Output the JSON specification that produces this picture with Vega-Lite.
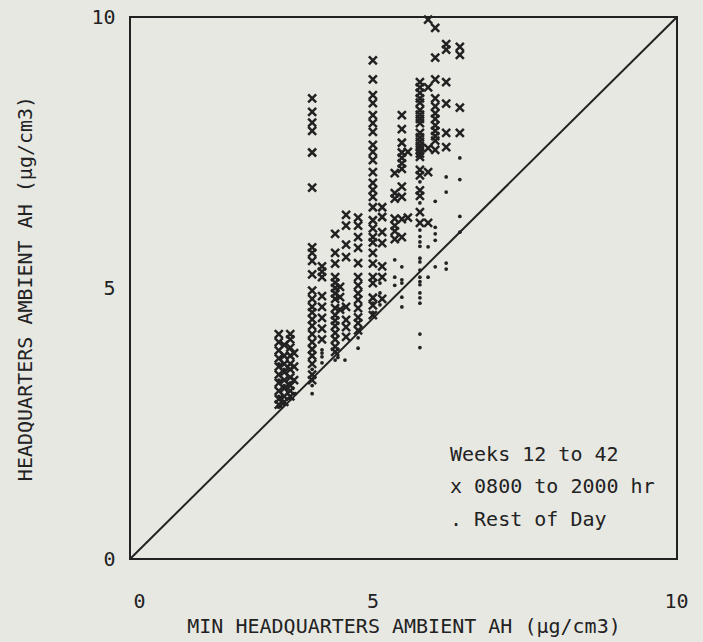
{
  "$schema": "https://vega.github.io/schema/vega-lite/v6.json",
  "width": 547,
  "height": 542,
  "autosize": {"type": "none"},
  "padding": {"left": 130, "top": 17, "right": 26, "bottom": 83},
  "background": "#e8e8e3",
  "config": {
    "view": {"stroke": "#222222", "strokeWidth": 2},
    "font": "DejaVu Sans Mono",
    "axis": {"labelFont": "DejaVu Sans Mono", "titleFont": "DejaVu Sans Mono", "labelColor": "#222222", "titleColor": "#222222", "titleFontWeight": "normal"}
  },
  "datasets": {
    "diag": [{"x": 0, "y": 0, "x2": 10, "y2": 10}],
    "legend": [
      {"x": 5.85, "y": 1.92, "label": "Weeks 12 to 42"},
      {"x": 5.85, "y": 1.33, "label": "x 0800 to 2000 hr"},
      {"x": 5.85, "y": 0.72, "label": ". Rest of Day"}
    ],
    "pts": [
      {"x": 2.72, "y": 4.15, "t": "d"}, {"x": 2.72, "y": 4.0, "t": "d"}, {"x": 2.72, "y": 3.85, "t": "d"}, {"x": 2.72, "y": 3.7, "t": "d"}, {"x": 2.72, "y": 3.55, "t": "d"}, {"x": 2.72, "y": 3.4, "t": "d"}, {"x": 2.72, "y": 3.25, "t": "d"}, {"x": 2.72, "y": 3.1, "t": "d"}, {"x": 2.72, "y": 2.95, "t": "d"}, {"x": 2.72, "y": 2.85, "t": "d"},
      {"x": 2.82, "y": 3.95, "t": "d"}, {"x": 2.82, "y": 3.75, "t": "d"}, {"x": 2.82, "y": 3.6, "t": "d"}, {"x": 2.82, "y": 3.45, "t": "d"}, {"x": 2.82, "y": 3.3, "t": "d"}, {"x": 2.82, "y": 3.15, "t": "d"}, {"x": 2.82, "y": 3.0, "t": "d"}, {"x": 2.82, "y": 2.9, "t": "d"},
      {"x": 2.93, "y": 4.15, "t": "d"}, {"x": 2.93, "y": 4.05, "t": "d"}, {"x": 2.93, "y": 3.9, "t": "d"}, {"x": 2.93, "y": 3.75, "t": "d"}, {"x": 2.93, "y": 3.6, "t": "d"}, {"x": 2.93, "y": 3.5, "t": "d"}, {"x": 2.93, "y": 3.35, "t": "d"}, {"x": 2.93, "y": 3.2, "t": "d"}, {"x": 2.93, "y": 3.1, "t": "d"}, {"x": 2.93, "y": 3.0, "t": "d"},
      {"x": 3.0, "y": 3.8, "t": "d"}, {"x": 3.0, "y": 3.55, "t": "d"}, {"x": 3.0, "y": 3.3, "t": "d"},
      {"x": 2.72, "y": 3.0, "t": "n"}, {"x": 2.72, "y": 2.8, "t": "n"}, {"x": 2.72, "y": 3.3, "t": "n"}, {"x": 2.72, "y": 3.6, "t": "n"},
      {"x": 2.82, "y": 3.5, "t": "n"}, {"x": 2.82, "y": 2.85, "t": "n"}, {"x": 2.82, "y": 3.2, "t": "n"},
      {"x": 2.93, "y": 3.25, "t": "n"}, {"x": 2.93, "y": 2.95, "t": "n"}, {"x": 3.02, "y": 3.05, "t": "n"},
      {"x": 3.33, "y": 8.5, "t": "d"}, {"x": 3.33, "y": 8.25, "t": "d"}, {"x": 3.33, "y": 8.05, "t": "d"}, {"x": 3.33, "y": 7.9, "t": "d"}, {"x": 3.33, "y": 7.5, "t": "d"}, {"x": 3.33, "y": 6.85, "t": "d"}, {"x": 3.33, "y": 5.75, "t": "d"}, {"x": 3.33, "y": 5.65, "t": "d"}, {"x": 3.33, "y": 5.5, "t": "d"}, {"x": 3.33, "y": 5.25, "t": "d"}, {"x": 3.33, "y": 4.95, "t": "d"}, {"x": 3.33, "y": 4.8, "t": "d"}, {"x": 3.33, "y": 4.65, "t": "d"}, {"x": 3.33, "y": 4.55, "t": "d"}, {"x": 3.33, "y": 4.42, "t": "d"}, {"x": 3.33, "y": 4.3, "t": "d"}, {"x": 3.33, "y": 4.15, "t": "d"}, {"x": 3.33, "y": 4.0, "t": "d"}, {"x": 3.33, "y": 3.87, "t": "d"}, {"x": 3.33, "y": 3.75, "t": "d"}, {"x": 3.33, "y": 3.6, "t": "d"}, {"x": 3.33, "y": 3.4, "t": "d"}, {"x": 3.33, "y": 3.3, "t": "d"},
      {"x": 3.33, "y": 3.05, "t": "n"}, {"x": 3.33, "y": 3.2, "t": "n"}, {"x": 3.33, "y": 3.5, "t": "n"},
      {"x": 3.51, "y": 5.4, "t": "d"}, {"x": 3.51, "y": 5.3, "t": "d"}, {"x": 3.51, "y": 5.2, "t": "d"}, {"x": 3.51, "y": 4.85, "t": "d"}, {"x": 3.51, "y": 4.65, "t": "d"}, {"x": 3.51, "y": 4.45, "t": "d"}, {"x": 3.51, "y": 4.25, "t": "d"}, {"x": 3.51, "y": 4.05, "t": "d"},
      {"x": 3.51, "y": 3.86, "t": "n"}, {"x": 3.51, "y": 3.8, "t": "n"}, {"x": 3.51, "y": 3.73, "t": "n"}, {"x": 3.51, "y": 3.62, "t": "n"},
      {"x": 3.75, "y": 6.0, "t": "d"}, {"x": 3.75, "y": 5.65, "t": "d"}, {"x": 3.75, "y": 5.45, "t": "d"}, {"x": 3.75, "y": 5.2, "t": "d"}, {"x": 3.75, "y": 5.1, "t": "d"}, {"x": 3.75, "y": 5.0, "t": "d"}, {"x": 3.75, "y": 4.9, "t": "d"}, {"x": 3.75, "y": 4.8, "t": "d"}, {"x": 3.75, "y": 4.63, "t": "d"}, {"x": 3.75, "y": 4.5, "t": "d"}, {"x": 3.75, "y": 4.4, "t": "d"}, {"x": 3.75, "y": 4.3, "t": "d"}, {"x": 3.75, "y": 4.17, "t": "d"}, {"x": 3.75, "y": 4.05, "t": "d"}, {"x": 3.75, "y": 3.92, "t": "d"}, {"x": 3.75, "y": 3.82, "t": "d"},
      {"x": 3.75, "y": 3.67, "t": "n"}, {"x": 3.8, "y": 3.72, "t": "n"}, {"x": 3.93, "y": 3.67, "t": "n"},
      {"x": 3.84, "y": 5.02, "t": "d"}, {"x": 3.84, "y": 4.83, "t": "d"}, {"x": 3.84, "y": 4.6, "t": "d"},
      {"x": 3.95, "y": 6.35, "t": "d"}, {"x": 3.95, "y": 6.15, "t": "d"}, {"x": 3.95, "y": 5.8, "t": "d"}, {"x": 3.95, "y": 5.57, "t": "d"}, {"x": 3.95, "y": 4.65, "t": "d"}, {"x": 3.95, "y": 4.41, "t": "d"}, {"x": 3.95, "y": 4.28, "t": "d"}, {"x": 3.95, "y": 4.1, "t": "d"},
      {"x": 4.17, "y": 6.3, "t": "d"}, {"x": 4.17, "y": 6.15, "t": "d"}, {"x": 4.17, "y": 5.94, "t": "d"}, {"x": 4.17, "y": 5.74, "t": "d"}, {"x": 4.17, "y": 5.46, "t": "d"}, {"x": 4.17, "y": 5.2, "t": "d"}, {"x": 4.17, "y": 5.05, "t": "d"}, {"x": 4.17, "y": 4.9, "t": "d"}, {"x": 4.17, "y": 4.78, "t": "d"}, {"x": 4.17, "y": 4.63, "t": "d"}, {"x": 4.17, "y": 4.46, "t": "d"}, {"x": 4.17, "y": 4.35, "t": "d"}, {"x": 4.17, "y": 4.22, "t": "d"},
      {"x": 4.17, "y": 4.08, "t": "n"}, {"x": 4.17, "y": 3.89, "t": "n"},
      {"x": 4.44, "y": 9.2, "t": "d"}, {"x": 4.44, "y": 8.85, "t": "d"}, {"x": 4.44, "y": 8.56, "t": "d"}, {"x": 4.44, "y": 8.41, "t": "d"}, {"x": 4.44, "y": 8.19, "t": "d"}, {"x": 4.44, "y": 8.04, "t": "d"}, {"x": 4.44, "y": 7.88, "t": "d"}, {"x": 4.44, "y": 7.64, "t": "d"}, {"x": 4.44, "y": 7.51, "t": "d"}, {"x": 4.44, "y": 7.36, "t": "d"}, {"x": 4.44, "y": 7.14, "t": "d"}, {"x": 4.44, "y": 6.94, "t": "d"}, {"x": 4.44, "y": 6.81, "t": "d"}, {"x": 4.44, "y": 6.68, "t": "d"}, {"x": 4.44, "y": 6.49, "t": "d"}, {"x": 4.44, "y": 6.25, "t": "d"}, {"x": 4.44, "y": 6.1, "t": "d"}, {"x": 4.44, "y": 5.94, "t": "d"}, {"x": 4.44, "y": 5.84, "t": "d"}, {"x": 4.44, "y": 5.65, "t": "d"}, {"x": 4.44, "y": 5.45, "t": "d"}, {"x": 4.44, "y": 5.2, "t": "d"}, {"x": 4.44, "y": 5.09, "t": "d"}, {"x": 4.44, "y": 4.82, "t": "d"}, {"x": 4.44, "y": 4.68, "t": "d"}, {"x": 4.44, "y": 4.5, "t": "d"},
      {"x": 4.44, "y": 4.72, "t": "n"}, {"x": 4.44, "y": 4.55, "t": "n"},
      {"x": 4.61, "y": 6.49, "t": "d"}, {"x": 4.61, "y": 6.31, "t": "d"}, {"x": 4.61, "y": 6.03, "t": "d"}, {"x": 4.61, "y": 5.83, "t": "d"}, {"x": 4.61, "y": 5.4, "t": "d"}, {"x": 4.61, "y": 5.2, "t": "d"}, {"x": 4.61, "y": 4.8, "t": "d"},
      {"x": 4.57, "y": 5.09, "t": "n"}, {"x": 4.57, "y": 4.91, "t": "n"}, {"x": 4.57, "y": 4.69, "t": "n"},
      {"x": 4.84, "y": 7.12, "t": "d"}, {"x": 4.84, "y": 6.75, "t": "d"}, {"x": 4.84, "y": 6.65, "t": "d"}, {"x": 4.84, "y": 6.28, "t": "d"}, {"x": 4.84, "y": 6.15, "t": "d"}, {"x": 4.84, "y": 6.05, "t": "d"}, {"x": 4.84, "y": 5.9, "t": "d"},
      {"x": 4.84, "y": 5.52, "t": "n"}, {"x": 4.84, "y": 5.2, "t": "n"}, {"x": 4.84, "y": 5.05, "t": "n"},
      {"x": 4.97, "y": 8.19, "t": "d"}, {"x": 4.97, "y": 7.93, "t": "d"}, {"x": 4.97, "y": 7.68, "t": "d"}, {"x": 4.97, "y": 7.5, "t": "d"}, {"x": 4.97, "y": 7.4, "t": "d"}, {"x": 4.97, "y": 7.3, "t": "d"}, {"x": 4.97, "y": 7.2, "t": "d"}, {"x": 4.97, "y": 6.87, "t": "d"}, {"x": 4.97, "y": 6.68, "t": "d"}, {"x": 4.97, "y": 6.27, "t": "d"}, {"x": 4.97, "y": 5.94, "t": "d"}, {"x": 5.08, "y": 7.51, "t": "d"}, {"x": 5.08, "y": 6.3, "t": "d"},
      {"x": 4.97, "y": 5.39, "t": "n"}, {"x": 4.97, "y": 5.15, "t": "n"}, {"x": 4.97, "y": 5.09, "t": "n"}, {"x": 4.97, "y": 4.83, "t": "n"}, {"x": 4.97, "y": 4.65, "t": "n"},
      {"x": 5.3, "y": 8.8, "t": "d"}, {"x": 5.3, "y": 8.7, "t": "d"}, {"x": 5.3, "y": 8.6, "t": "d"}, {"x": 5.3, "y": 8.5, "t": "d"}, {"x": 5.3, "y": 8.42, "t": "d"}, {"x": 5.3, "y": 8.28, "t": "d"}, {"x": 5.3, "y": 8.2, "t": "d"}, {"x": 5.3, "y": 8.12, "t": "d"}, {"x": 5.3, "y": 8.04, "t": "d"}, {"x": 5.3, "y": 7.86, "t": "d"}, {"x": 5.3, "y": 7.78, "t": "d"}, {"x": 5.3, "y": 7.7, "t": "d"}, {"x": 5.3, "y": 7.62, "t": "d"}, {"x": 5.3, "y": 7.55, "t": "d"}, {"x": 5.3, "y": 7.48, "t": "d"}, {"x": 5.3, "y": 7.42, "t": "d"}, {"x": 5.3, "y": 7.18, "t": "d"}, {"x": 5.3, "y": 7.08, "t": "d"}, {"x": 5.3, "y": 6.8, "t": "d"}, {"x": 5.3, "y": 6.7, "t": "d"}, {"x": 5.3, "y": 6.4, "t": "d"}, {"x": 5.3, "y": 6.2, "t": "d"},
      {"x": 5.3, "y": 6.96, "t": "n"}, {"x": 5.3, "y": 6.57, "t": "n"}, {"x": 5.3, "y": 6.07, "t": "n"}, {"x": 5.3, "y": 5.95, "t": "n"}, {"x": 5.3, "y": 5.85, "t": "n"}, {"x": 5.3, "y": 5.77, "t": "n"}, {"x": 5.3, "y": 5.55, "t": "n"}, {"x": 5.3, "y": 5.48, "t": "n"}, {"x": 5.3, "y": 5.33, "t": "n"}, {"x": 5.3, "y": 5.2, "t": "n"}, {"x": 5.3, "y": 5.12, "t": "n"}, {"x": 5.3, "y": 5.06, "t": "n"}, {"x": 5.3, "y": 4.91, "t": "n"}, {"x": 5.3, "y": 4.82, "t": "n"}, {"x": 5.3, "y": 4.72, "t": "n"}, {"x": 5.3, "y": 4.15, "t": "n"}, {"x": 5.3, "y": 3.9, "t": "n"},
      {"x": 5.45, "y": 9.95, "t": "d"}, {"x": 5.45, "y": 8.7, "t": "d"}, {"x": 5.45, "y": 7.58, "t": "d"}, {"x": 5.45, "y": 7.14, "t": "d"}, {"x": 5.45, "y": 6.2, "t": "d"},
      {"x": 5.45, "y": 5.76, "t": "n"}, {"x": 5.45, "y": 5.2, "t": "n"},
      {"x": 5.58, "y": 9.8, "t": "d"}, {"x": 5.58, "y": 9.25, "t": "d"}, {"x": 5.58, "y": 8.85, "t": "d"}, {"x": 5.58, "y": 8.5, "t": "d"}, {"x": 5.58, "y": 8.35, "t": "d"}, {"x": 5.58, "y": 8.22, "t": "d"}, {"x": 5.58, "y": 8.12, "t": "d"}, {"x": 5.58, "y": 8.0, "t": "d"}, {"x": 5.58, "y": 7.9, "t": "d"}, {"x": 5.58, "y": 7.8, "t": "d"}, {"x": 5.58, "y": 7.72, "t": "d"}, {"x": 5.58, "y": 7.55, "t": "d"},
      {"x": 5.58, "y": 6.6, "t": "n"}, {"x": 5.58, "y": 6.12, "t": "n"}, {"x": 5.58, "y": 6.0, "t": "n"}, {"x": 5.58, "y": 5.88, "t": "n"}, {"x": 5.58, "y": 5.39, "t": "n"},
      {"x": 5.78, "y": 9.5, "t": "d"}, {"x": 5.78, "y": 9.4, "t": "d"}, {"x": 5.78, "y": 8.8, "t": "d"}, {"x": 5.78, "y": 8.4, "t": "d"}, {"x": 5.78, "y": 7.86, "t": "d"}, {"x": 5.78, "y": 7.6, "t": "d"},
      {"x": 5.78, "y": 7.05, "t": "n"}, {"x": 5.78, "y": 6.77, "t": "n"}, {"x": 5.78, "y": 5.46, "t": "n"}, {"x": 5.78, "y": 5.35, "t": "n"},
      {"x": 6.03, "y": 9.45, "t": "d"}, {"x": 6.03, "y": 9.3, "t": "d"}, {"x": 6.03, "y": 8.33, "t": "d"}, {"x": 6.03, "y": 7.86, "t": "d"},
      {"x": 6.03, "y": 7.4, "t": "n"}, {"x": 6.03, "y": 7.0, "t": "n"}, {"x": 6.03, "y": 6.32, "t": "n"}, {"x": 6.03, "y": 6.03, "t": "n"}
    ]
  },
  "layer": [
    {
      "data": {"name": "diag"},
      "mark": {"type": "rule", "stroke": "#222222", "strokeWidth": 2},
      "encoding": {
        "x": {"field": "x", "type": "quantitative", "scale": {"domain": [0, 10], "nice": false},
          "axis": {"title": "MIN HEADQUARTERS AMBIENT AH (μg/cm3)", "values": [0, 5, 10], "grid": false, "domain": false, "ticks": false, "labelFlush": false,
            "labelFontSize": 20, "labelPadding": 32, "titleFontSize": 20, "titlePadding": 5,
            "labelOffset": {"condition": [{"test": "datum.value == 0", "value": 9}, {"test": "datum.value == 5", "value": -31}], "value": -1}}},
        "y": {"field": "y", "type": "quantitative", "scale": {"domain": [0, 10], "nice": false},
          "axis": {"title": "HEADQUARTERS AMBIENT AH (μg/cm3)", "values": [0, 5, 10], "grid": false, "domain": false, "ticks": false, "labelFlush": false,
            "labelFontSize": 20, "labelPadding": 15, "titleFontSize": 20, "titlePadding": 55}},
        "x2": {"field": "x2"},
        "y2": {"field": "y2"}
      }
    },
    {
      "data": {"name": "pts"},
      "transform": [{"filter": "datum.t == 'd'"}],
      "mark": {"type": "point", "shape": "M-1,-1L1,1M1,-1L-1,1", "filled": false, "stroke": "#222222", "strokeWidth": 2.5, "size": 64, "opacity": 1},
      "encoding": {
        "x": {"field": "x", "type": "quantitative"},
        "y": {"field": "y", "type": "quantitative"}
      }
    },
    {
      "data": {"name": "pts"},
      "transform": [{"filter": "datum.t == 'n'"}],
      "mark": {"type": "point", "shape": "circle", "filled": true, "color": "#222222", "size": 14, "opacity": 1},
      "encoding": {
        "x": {"field": "x", "type": "quantitative"},
        "y": {"field": "y", "type": "quantitative"}
      }
    },
    {
      "data": {"name": "legend"},
      "mark": {"type": "text", "align": "left", "baseline": "middle", "fontSize": 20, "font": "DejaVu Sans Mono", "color": "#222222"},
      "encoding": {
        "x": {"field": "x", "type": "quantitative"},
        "y": {"field": "y", "type": "quantitative"},
        "text": {"field": "label"}
      }
    }
  ]
}
